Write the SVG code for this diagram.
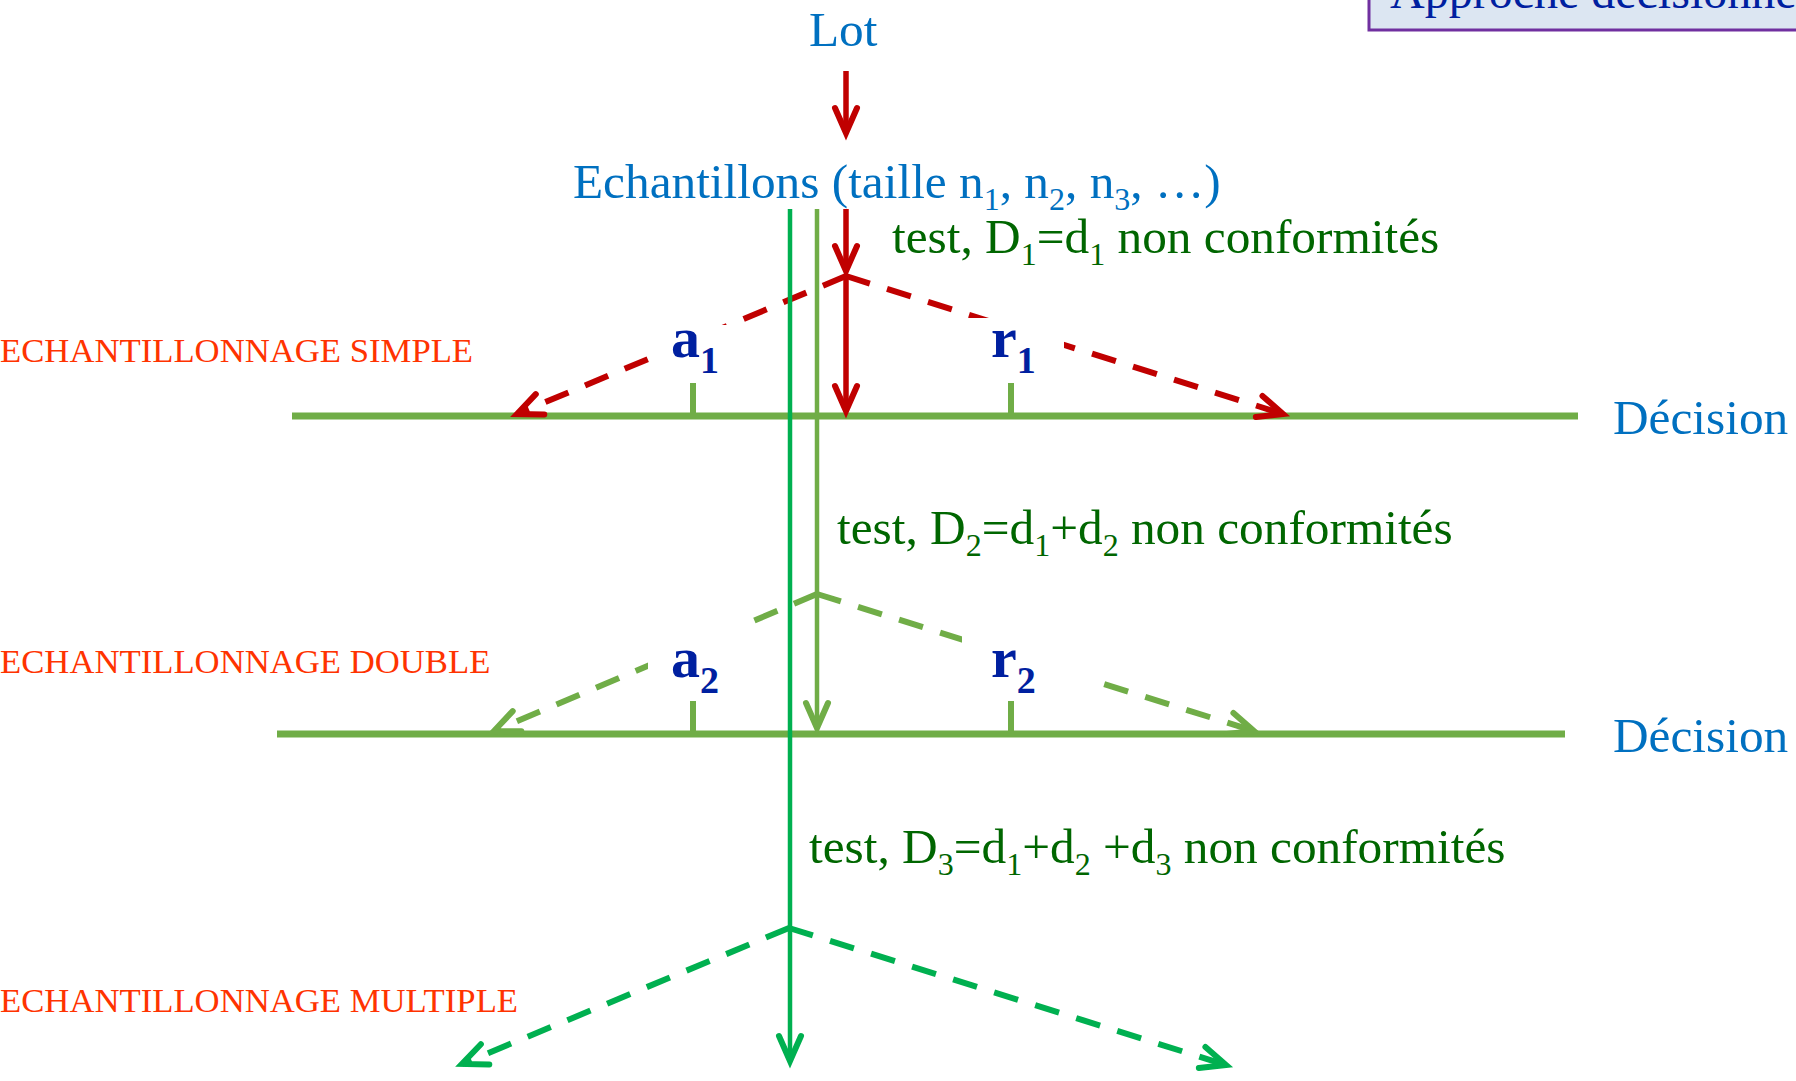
<svg xmlns="http://www.w3.org/2000/svg" width="1796" height="1081" viewBox="0 0 1796 1081">
<style>
  text{font-family:"Liberation Serif","Times New Roman",serif;}
  .blue{fill:#0070c0;font-size:49.3px;}
  .dg{fill:#006600;font-size:49.3px;}
  .cat{fill:#ff3300;font-size:34.7px;}
  .lab{fill:#0020a0;font-size:58px;font-weight:bold;}
  .title{fill:#0020a0;font-size:48px;}
  .sub{font-size:32px;}
  .axis{stroke:#70ad47;stroke-width:7;fill:none;}
  .tick{stroke:#70ad47;stroke-width:6;fill:none;}
  .dash{stroke-width:6;stroke-dasharray:25 18;fill:none;}
  .red{stroke:#c00000;}
  .olive{stroke:#70ad47;}
  .grn{stroke:#00b050;}
  .vline{stroke-width:4.5;fill:none;}
  .mask{fill:#ffffff;stroke:none;}
</style>
<defs>
  <marker id="ahRed" markerUnits="userSpaceOnUse" orient="auto" overflow="visible" refX="0" refY="0" markerWidth="1" markerHeight="1">
    <path d="M-25,-11 L0,0 L-25,11" fill="none" stroke="#c00000" stroke-width="6" stroke-linecap="round" stroke-linejoin="miter"/>
  </marker>
  <marker id="ahOlive" markerUnits="userSpaceOnUse" orient="auto" overflow="visible" refX="0" refY="0" markerWidth="1" markerHeight="1">
    <path d="M-25,-11 L0,0 L-25,11" fill="none" stroke="#70ad47" stroke-width="6" stroke-linecap="round" stroke-linejoin="miter"/>
  </marker>
  <marker id="ahGreen" markerUnits="userSpaceOnUse" orient="auto" overflow="visible" refX="0" refY="0" markerWidth="1" markerHeight="1">
    <path d="M-25,-11 L0,0 L-25,11" fill="none" stroke="#00b050" stroke-width="6" stroke-linecap="round" stroke-linejoin="miter"/>
  </marker>
</defs>

<g id="title-box">
  <rect x="1369" y="-20" width="460" height="50" fill="#dce6f2" stroke="#7030a0" stroke-width="3"/>
  <text class="title" x="1390" y="8">Approche décisionnelle</text>
</g>

<g id="lot"><text class="blue" x="809" y="46">Lot</text></g>
<g id="echantillons">
  <text class="blue" x="573" y="198">Echantillons (taille n<tspan class="sub" dy="12">1</tspan><tspan dy="-12">, n</tspan><tspan class="sub" dy="12">2</tspan><tspan dy="-12">, n</tspan><tspan class="sub" dy="12">3</tspan><tspan dy="-12">, …)</tspan></text>
</g>

<g id="decision-axis-1">
  <line class="axis" x1="292" y1="416" x2="1578" y2="416"/>
  <line class="tick" x1="693" y1="383" x2="693" y2="416"/>
  <line class="tick" x1="1011" y1="383" x2="1011" y2="416"/>
  <text class="blue" x="1613" y="434">Décision</text>
</g>
<g id="decision-axis-2">
  <line class="axis" x1="277" y1="734" x2="1565" y2="734"/>
  <line class="tick" x1="693" y1="701" x2="693" y2="734"/>
  <line class="tick" x1="1011" y1="701" x2="1011" y2="734"/>
  <text class="blue" x="1613" y="752">Décision</text>
</g>

<g id="connectors">
  <line class="dash red" x1="846" y1="276" x2="517" y2="414" marker-end="url(#ahRed)"/>
  <line class="dash red" x1="846" y1="276" x2="1283" y2="414" marker-end="url(#ahRed)"/>
  <line class="dash olive" x1="817" y1="594" x2="494" y2="731" marker-end="url(#ahOlive)"/>
  <line class="dash olive" x1="817" y1="594" x2="1254" y2="731" marker-end="url(#ahOlive)"/>
  <line class="dash grn" x1="789" y1="928" x2="462" y2="1064" marker-end="url(#ahGreen)"/>
  <line class="dash grn" x1="789" y1="928" x2="1226" y2="1065" marker-end="url(#ahGreen)"/>
</g>

<g id="label-a1">
  <rect class="mask" x="650" y="325" width="87" height="56"/>
  <text class="lab" x="671" y="357">a<tspan font-size="38" dy="16">1</tspan></text>
</g>
<g id="label-r1">
  <rect class="mask" x="962" y="318" width="102" height="63"/>
  <text class="lab" x="991" y="357">r<tspan font-size="38" dy="16">1</tspan></text>
</g>
<g id="label-a2">
  <rect class="mask" x="648" y="620" width="102" height="78"/>
  <text class="lab" x="671" y="677">a<tspan font-size="38" dy="16">2</tspan></text>
</g>
<g id="label-r2">
  <rect class="mask" x="962" y="634" width="132" height="64"/>
  <text class="lab" x="991" y="677">r<tspan font-size="38" dy="16">2</tspan></text>
</g>

<g id="vertical-flows">
  <line class="vline grn" x1="790" y1="209" x2="790" y2="1061" marker-end="url(#ahGreen)"/>
  <line class="vline olive" x1="817" y1="209" x2="817" y2="728" marker-end="url(#ahOlive)"/>
  <line class="red" stroke-width="5.5" x1="846" y1="71" x2="846" y2="133" marker-end="url(#ahRed)"/>
  <line class="red" stroke-width="5.5" x1="846" y1="209" x2="846" y2="271" marker-end="url(#ahRed)"/>
  <line class="red" stroke-width="5.5" x1="846" y1="276" x2="846" y2="411" marker-end="url(#ahRed)"/>
</g>

<g id="tests">
  <text class="dg" x="892" y="253">test, D<tspan class="sub" dy="12">1</tspan><tspan dy="-12">=d</tspan><tspan class="sub" dy="12">1</tspan><tspan dy="-12"> non conformités</tspan></text>
  <text class="dg" x="837" y="544">test, D<tspan class="sub" dy="12">2</tspan><tspan dy="-12">=d</tspan><tspan class="sub" dy="12">1</tspan><tspan dy="-12">+d</tspan><tspan class="sub" dy="12">2</tspan><tspan dy="-12"> non conformités</tspan></text>
  <text class="dg" x="809" y="863">test, D<tspan class="sub" dy="12">3</tspan><tspan dy="-12">=d</tspan><tspan class="sub" dy="12">1</tspan><tspan dy="-12">+d</tspan><tspan class="sub" dy="12">2</tspan><tspan dy="-12"> +d</tspan><tspan class="sub" dy="12">3</tspan><tspan dy="-12"> non conformités</tspan></text>
</g>

<g id="categories">
  <text class="cat" x="0" y="362">ECHANTILLONNAGE SIMPLE</text>
  <text class="cat" x="0" y="673">ECHANTILLONNAGE DOUBLE</text>
  <text class="cat" x="0" y="1012">ECHANTILLONNAGE MULTIPLE</text>
</g>
</svg>
